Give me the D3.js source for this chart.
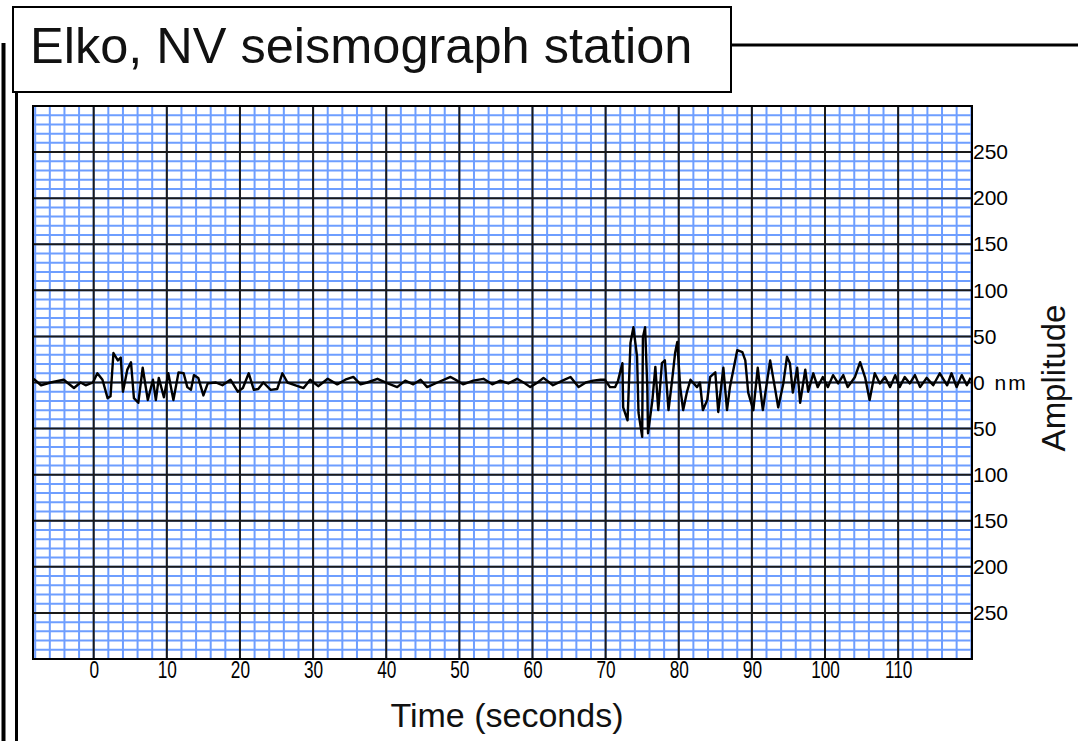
<!DOCTYPE html>
<html>
<head>
<meta charset="utf-8">
<script src="https://cdn.jsdelivr.net/npm/d3@7"></script>
<style>
	body{margin:0;background:#fff;}
	svg{display:block;}
	.tick text{fill:#000;}
</style>
</head>
<body>
<script>
// seismogram trace (time in s, amplitude in nm)
var traceTime = [-8.2,-7.2,-5.9,-4.1,-2.7,-1.8,-1.1,-0.1,0.5,1.2,1.9,2.3,2.7,3.3,3.7,4.0,4.6,5.1,5.5,6.1,
	6.7,7.4,8.1,8.5,8.9,9.6,10.2,10.9,11.6,12.3,12.8,13.3,13.7,14.3,15.0,15.6,16.7,17.6,18.7,19.7,
	20.4,21.2,21.9,22.5,23.2,24.2,25.1,25.8,26.5,27.6,28.7,29.6,30.7,32.0,33.3,34.4,35.5,36.5,37.4,38.8,
	40.2,41.5,42.6,43.7,44.7,45.6,47.0,48.8,49.7,50.5,51.9,53.3,54.5,55.6,56.7,57.9,59.0,59.7,60.7,61.5,
	62.8,64.1,65.2,66.3,67.3,68.3,69.3,69.9,70.6,71.3,71.7,72.3,72.4,73.0,73.4,73.8,74.3,74.5,75.0,75.1,
	75.4,75.7,75.8,76.4,76.8,77.2,77.7,78.1,78.6,79.1,79.5,79.8,80.2,80.6,81.1,81.6,82.5,82.9,83.3,83.9,
	84.3,85.0,85.4,86.1,86.6,87.0,88.0,88.7,89.1,89.5,90.2,90.8,91.5,92.5,93.2,93.6,94.3,94.8,95.2,95.6,
	96.2,96.6,97.3,97.7,98.4,99.0,99.7,100.4,101.1,101.8,102.5,103.1,104.1,104.8,105.5,106.1,106.8,107.5,108.2,108.9,
	109.6,110.2,110.9,111.6,112.3,113.0,113.9,114.8,115.7,116.7,117.3,118.0,118.7,119.4,119.9];
var traceAmp = [4,-3,0,3,-6,0,-3,0,10,3,-17,-15,32,24,27,-10,14,22,-17,-22,
	16,-19,3,-19,5,-16,10,-19,11,10,-5,-8,8,5,-14,-1,0,-3,3,-10,
	-6,10,-8,-7,0,-8,-7,10,0,-3,-6,3,-4,4,-2,3,6,-2,0,4,
	-1,-5,2,-2,3,-5,0,6,2,-2,2,4,-2,2,-1,4,-1,-5,0,5,
	-3,2,6,-5,0,2,3,3,-5,-5,2,21,-27,-41,43,60,28,-33,-59,49,
	60,-5,-55,-19,17,-30,21,24,-30,3,32,44,-5,-30,-11,3,-5,0,-30,-19,
	6,11,-32,16,-30,-5,35,33,24,-11,-30,16,-30,24,-8,-27,-1,28,21,-11,
	16,-22,14,-10,10,-5,6,-5,8,-1,8,-5,6,22,5,-19,10,-1,6,-5,
	8,-5,6,-1,8,-5,5,-3,10,-3,10,-5,8,-3,5];

var xTicks = [0,10,20,30,40,50,60,70,80,90,100,110];
var yTicks = [250,200,150,100,50,0,-50,-100,-150,-200,-250];
var yTickLabels = ["250","200","150","100","50","0 nm","50","100","150","200","250"];

var titleText = "Elko, NV seismograph station";
var xTitle = "Time (seconds)";
var yTitle = "Amplitude";

(function(){
	//Configure layout
	const Config = {
		svg: {Width: 1078, Height: 741},
		plot: {left: 33, top: 106, right: 972, bottom: 659},
		xDomain: [-8.3, 120.1],
		yDomain: [-300, 300],
		blue: "#6e9eff",
		font: "'Liberation Sans', Arial, Helvetica, sans-serif"
	};

	var svg = d3.select('body')
			.append('svg')
			.attr('width', Config.svg.Width)
			.attr('height', Config.svg.Height);

	var scaleX = d3.scaleLinear().domain(Config.xDomain).range([Config.plot.left, Config.plot.right]);
	var scaleY = d3.scaleLinear().domain(Config.yDomain).range([Config.plot.bottom, Config.plot.top]);

	// frame lines on the left and top right
	svg.append('line')
		.attr('x1', 3.5).attr('x2', 3.5).attr('y1', 43).attr('y2', Config.svg.Height)
		.attr('stroke', '#000').attr('stroke-width', 4);
	svg.append('line')
		.attr('x1', 16.5).attr('x2', 16.5).attr('y1', 92).attr('y2', Config.svg.Height)
		.attr('stroke', '#000').attr('stroke-width', 3);
	svg.append('line')
		.attr('x1', 731).attr('x2', Config.svg.Width).attr('y1', 45).attr('y2', 45)
		.attr('stroke', '#000').attr('stroke-width', 3);

	// title box
	svg.append('rect')
		.attr('x', 13).attr('y', 7).attr('width', 718).attr('height', 85)
		.attr('fill', '#fff').attr('stroke', '#000').attr('stroke-width', 2);
	svg.append('text')
		.attr('x', 30).attr('y', 63)
		.attr('font-family', Config.font)
		.attr('font-size', 50.5)
		.attr('fill', '#111')
		.text(titleText);

	var grid = svg.append('g').attr('id', 'grid');
	grid.append('rect')
		.attr('x', Config.plot.left).attr('y', Config.plot.top)
		.attr('width', Config.plot.right - Config.plot.left)
		.attr('height', Config.plot.bottom - Config.plot.top)
		.attr('fill', '#fff');

	//minor blue grid
	grid.selectAll('.vminor')
		.data(d3.range(-8, 121, 2))
		.enter().append('line')
			.attr('class', 'vminor')
			.attr('x1', function(d){ return scaleX(d); })
			.attr('x2', function(d){ return scaleX(d); })
			.attr('y1', Config.plot.top).attr('y2', Config.plot.bottom)
			.attr('stroke', Config.blue).attr('stroke-width', 2);
	grid.selectAll('.hminor')
		.data(d3.range(-290, 300, 10))
		.enter().append('line')
			.attr('class', 'hminor')
			.attr('y1', function(d){ return scaleY(d); })
			.attr('y2', function(d){ return scaleY(d); })
			.attr('x1', Config.plot.left).attr('x2', Config.plot.right)
			.attr('stroke', Config.blue).attr('stroke-width', 2);

	//major black grid
	grid.selectAll('.vmajor')
		.data(xTicks)
		.enter().append('line')
			.attr('class', 'vmajor')
			.attr('x1', function(d){ return scaleX(d); })
			.attr('x2', function(d){ return scaleX(d); })
			.attr('y1', Config.plot.top).attr('y2', Config.plot.bottom)
			.attr('stroke', '#1a1a1a').attr('stroke-width', 2);
	grid.selectAll('.hmajor')
		.data(yTicks)
		.enter().append('line')
			.attr('class', 'hmajor')
			.attr('y1', function(d){ return scaleY(d); })
			.attr('y2', function(d){ return scaleY(d); })
			.attr('x1', Config.plot.left).attr('x2', Config.plot.right)
			.attr('stroke', '#1a1a1a').attr('stroke-width', 2);

	// trace
	var points = traceTime.map(function(t, i){ return [t, traceAmp[i]]; });
	var line = d3.line()
			.x(function(d){ return scaleX(d[0]); })
			.y(function(d){ return scaleY(d[1]); });
	svg.append('path')
		.datum(points)
		.attr('fill', 'none')
		.attr('stroke', '#000')
		.attr('stroke-width', 2.4)
		.attr('stroke-linejoin', 'round')
		.attr('d', line);

	// plot border
	svg.append('rect')
		.attr('x', Config.plot.left).attr('y', Config.plot.top)
		.attr('width', Config.plot.right - Config.plot.left)
		.attr('height', Config.plot.bottom - Config.plot.top)
		.attr('fill', 'none').attr('stroke', '#000').attr('stroke-width', 2);

	//axis x
	var axX = svg.append('g')
		.attr('class', 'axis axis--x')
		.attr('transform', 'translate(0,' + Config.plot.bottom + ')')
		.call(d3.axisBottom(scaleX).tickValues(xTicks).tickSize(0).tickPadding(3));
	axX.select('.domain').remove();
	axX.selectAll('text')
		.attr('font-family', Config.font)
		.attr('font-size', 23)
		.attr('transform', 'scale(0.75,1)');

	//axis y
	var axY = svg.append('g')
		.attr('class', 'axis axis--y')
		.attr('transform', 'translate(' + Config.plot.right + ',0)')
		.call(d3.axisRight(scaleY).tickValues(yTicks).tickSize(0).tickPadding(1)
			.tickFormat(function(d, i){ return yTickLabels[i]; }));
	axY.select('.domain').remove();
	axY.selectAll('text')
		.attr('font-family', Config.font)
		.attr('font-size', 21)
		.attr('letter-spacing', function(d){ return d === 0 ? 2 : 0; });

	// axis titles
	svg.append('text')
		.attr('x', 507).attr('y', 727)
		.attr('text-anchor', 'middle')
		.attr('font-family', Config.font)
		.attr('font-size', 34)
		.attr('fill', '#111')
		.text(xTitle);
	svg.append('text')
		.attr('transform', 'translate(1065,378) rotate(-90)')
		.attr('text-anchor', 'middle')
		.attr('font-family', Config.font)
		.attr('font-size', 33)
		.attr('fill', '#111')
		.text(yTitle);
})();
</script>
</body>
</html>
